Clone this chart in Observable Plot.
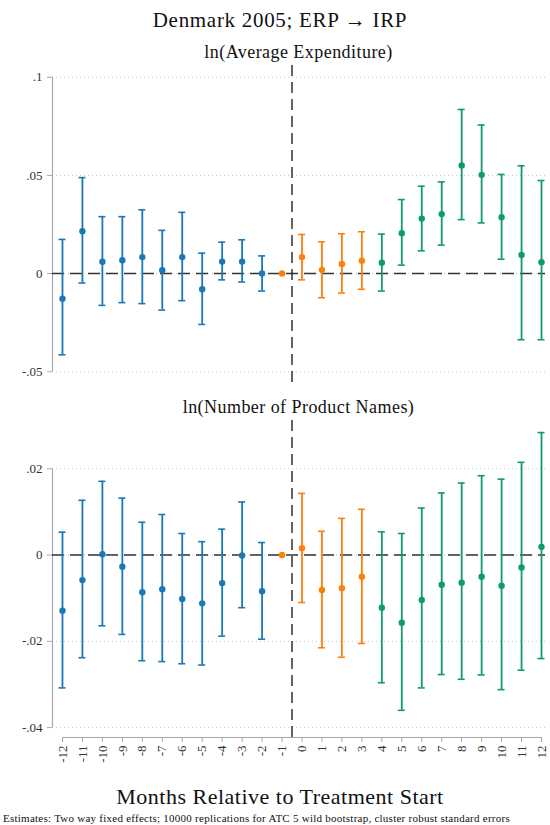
<!DOCTYPE html>
<html>
<head>
<meta charset="utf-8">
<script src="https://cdn.jsdelivr.net/npm/d3@7"></script>
<script src="https://cdn.jsdelivr.net/npm/@observablehq/plot@0.6"></script>
<style>
  html, body { margin: 0; padding: 0; background: #fff; }
  #wrap { position: relative; width: 550px; height: 825px; overflow: hidden; font-family: "Liberation Serif", "DejaVu Serif", serif; color: #111; }
  .txt { position: absolute; line-height: 1; white-space: nowrap; }
  .panel { position: absolute; left: 0; }
</style>
</head>
<body>
<div id="wrap">
  <div class="txt" id="title" style="left:0;width:560px;text-align:center;top:10px;font-size:21px;letter-spacing:0.7px;">Denmark 2005; ERP → IRP</div>
  <div class="txt" id="sub1" style="left:52px;width:493px;text-align:center;top:43px;font-size:18px;letter-spacing:0.45px;">ln(Average Expenditure)</div>
  <div class="panel" id="p1" style="top:60px;"></div>
  <div class="txt" id="sub2" style="left:52px;width:493px;text-align:center;top:398px;font-size:18px;letter-spacing:0.45px;">ln(Number of Product Names)</div>
  <div class="panel" id="p2" style="top:415px;"></div>
  <div class="txt" id="xtitle" style="left:0;width:560px;text-align:center;top:786px;font-size:22px;letter-spacing:0.5px;">Months Relative to Treatment Start</div>
  <div class="txt" id="caption" style="left:3px;top:813px;font-size:11px;letter-spacing:0.25px;">Estimates: Two way fixed effects; 10000 replications for ATC 5 wild bootstrap, cluster robust standard errors</div>
</div>
<script>
// ---- data ----
const months = [-12,-11,-10,-9,-8,-7,-6,-5,-4,-3,-2,-1,0,1,2,3,4,5,6,7,8,9,10,11,12];
const phase  = ["pre","pre","pre","pre","pre","pre","pre","pre","pre","pre","pre",
                "short","short","short","short","short",
                "long","long","long","long","long","long","long","long","long"];

// ln(Average Expenditure)
const expEst = [-0.0128,0.0216,0.0060,0.0068,0.0084,0.0017,0.0084,-0.0080,0.0061,0.0061,0.0000,
                0,0.0084,0.0019,0.0049,0.0065,
                0.0055,0.0206,0.0280,0.0303,0.0551,0.0503,0.0287,0.0095,0.0058];
const expLo  = [-0.0414,-0.0048,-0.0162,-0.0148,-0.0153,-0.0186,-0.0138,-0.0259,-0.0032,-0.0043,-0.0089,
                null,-0.0032,-0.0123,-0.0099,-0.0080,
                -0.0089,0.0043,0.0116,0.0145,0.0275,0.0258,0.0073,-0.0337,-0.0337];
const expHi  = [0.0174,0.0489,0.0290,0.0290,0.0325,0.0220,0.0312,0.0104,0.0160,0.0172,0.0090,
                null,0.0199,0.0162,0.0203,0.0213,
                0.0201,0.0377,0.0445,0.0467,0.0836,0.0757,0.0505,0.0549,0.0474];

// ln(Number of Product Names)
const nameEst = [-0.0129,-0.0058,0.0002,-0.0027,-0.0086,-0.0079,-0.0102,-0.0112,-0.0065,-0.0001,-0.0084,
                 0,0.0016,-0.0081,-0.0077,-0.0050,
                 -0.0122,-0.0157,-0.0104,-0.0069,-0.0064,-0.0050,-0.0071,-0.0029,0.0019];
const nameLo  = [-0.0308,-0.0238,-0.0164,-0.0184,-0.0245,-0.0247,-0.0252,-0.0255,-0.0188,-0.0122,-0.0195,
                 null,-0.0110,-0.0215,-0.0237,-0.0205,
                 -0.0296,-0.0360,-0.0308,-0.0277,-0.0288,-0.0278,-0.0312,-0.0267,-0.0240];
const nameHi  = [0.0053,0.0127,0.0171,0.0132,0.0076,0.0094,0.0050,0.0031,0.0060,0.0123,0.0029,
                 null,0.0143,0.0055,0.0085,0.0106,
                 0.0054,0.0050,0.0109,0.0144,0.0167,0.0184,0.0176,0.0215,0.0284];

const expTicks  = [-0.05, 0, 0.05, 0.1];
const nameTicks = [-0.04, -0.02, 0, 0.02];
const expDomain  = [-0.056, 0.106];
const nameDomain = [-0.0423, 0.0312];
const xDomain = [-12.5, 12.2];
const treatLine = [-0.5];

const phases = ["pre","short","long"];
const phaseColors = ["#1a78b4","#ff7f0e","#0f9b70"];

const serif = "'Liberation Serif', 'DejaVu Serif', serif";
const fmt = d => String(d).replace("0.", ".");

function rows(est, lo, hi) {
  return months.map((m, i) => ({m, est: est[i], lo: lo[i], hi: hi[i], phase: phase[i]}));
}

function panel(data, ticks, domain, opts) {
  const ci = data.filter(d => d.lo != null);
  const marks = [
    Plot.gridY(ticks, {stroke: "#c8c8c8", strokeOpacity: 1, strokeDasharray: "1,3", strokeWidth: 1}),
    Plot.ruleX([xDomain[0]], {y1: d3.min(ticks), y2: d3.max(ticks), stroke: "#a8a8a8", strokeWidth: 1.2}),
    Plot.axisY(ticks, {tickFormat: fmt, tickSize: 5, tickPadding: 5, stroke: "#a8a8a8", fill: "#333", fontSize: 13, fontFamily: serif, label: null}),
    Plot.ruleY([0], {stroke: "#333", strokeWidth: 1.4, strokeDasharray: "12,6"}),
    Plot.ruleX(treatLine, {stroke: "#222", strokeWidth: 1.4, strokeDasharray: "11,6"}),
    Plot.ruleX(ci, {x: "m", y1: "lo", y2: "hi", stroke: "phase", strokeWidth: 1.8}),
    Plot.ruleY(ci, {y: "lo", x1: "m", x2: "m", insetLeft: -3.5, insetRight: -3.5, stroke: "phase", strokeWidth: 1.6}),
    Plot.ruleY(ci, {y: "hi", x1: "m", x2: "m", insetLeft: -3.5, insetRight: -3.5, stroke: "phase", strokeWidth: 1.6}),
    Plot.dot(data, {x: "m", y: "est", fill: "phase", r: 3.2})
  ];
  if (opts.xAxis) {
    marks.push(
      Plot.ruleY([domain[0]], {x1: d3.min(months), x2: d3.max(months), stroke: "#a8a8a8", strokeWidth: 1.2}),
      Plot.axisX(months, {tickFormat: d => String(d), tickRotate: -90, tickSize: 5, tickPadding: 3, stroke: "#a8a8a8", fill: "#333", fontSize: 13, fontFamily: serif, label: null})
    );
  } else {
    marks.push(Plot.axisX({ticks: [], label: null}));
  }
  return Plot.plot({
    width: 550,
    height: opts.height,
    marginLeft: 52,
    marginRight: 5,
    marginTop: opts.marginTop,
    marginBottom: opts.marginBottom,
    style: {background: "transparent", fontFamily: serif, overflow: "visible"},
    x: {domain: xDomain, label: null},
    y: {domain: domain, label: null},
    color: {domain: phases, range: phaseColors},
    marks
  });
}

document.getElementById("p1").appendChild(
  panel(rows(expEst, expLo, expHi), expTicks, expDomain, {height: 330, marginTop: 5, marginBottom: 7, xAxis: false})
);
document.getElementById("p2").appendChild(
  panel(rows(nameEst, nameLo, nameHi), nameTicks, nameDomain, {height: 380, marginTop: 5, marginBottom: 58, xAxis: true})
);
</script>
</body>
</html>
